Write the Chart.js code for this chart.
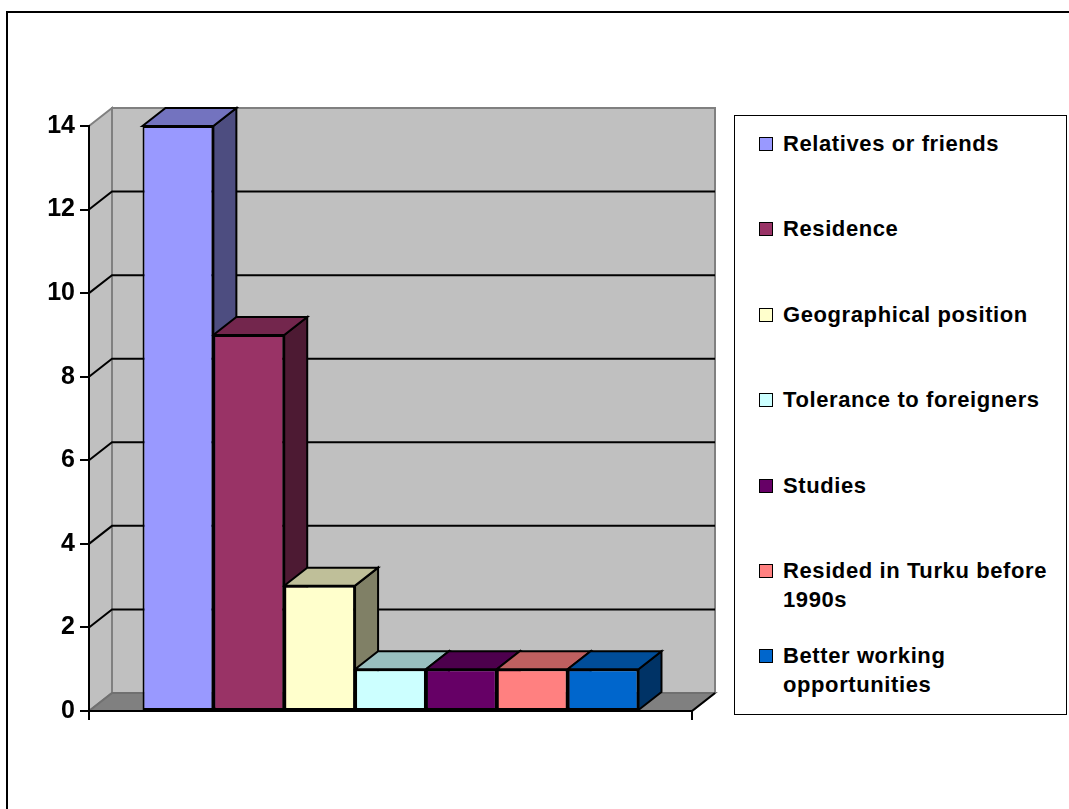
<!DOCTYPE html>
<html>
<head>
<meta charset="utf-8">
<script src="https://cdn.jsdelivr.net/npm/chart.js@4/dist/chart.umd.min.js"></script>
<style>
  html, body { margin: 0; padding: 0; background: #fff; overflow: hidden; }
  #wrap { position: relative; width: 1069px; height: 809px; overflow: hidden; }
  #frame { position: absolute; left: 6px; top: 11px; width: 2000px; height: 2000px; border: 2px solid #000; }
  #chart { position: absolute; left: 0; top: 0; }
  #legend { position: absolute; left: 734px; top: 115px; width: 331px; height: 598px; border: 1.5px solid #000; background: #fff; }
  .item { position: absolute; left: 24px; font: bold 22px "Liberation Sans", Arial, sans-serif; letter-spacing: 0.6px; line-height: 29px; color: #000; }
  .swatch { position: absolute; left: 0; top: 8px; width: 12px; height: 12px; border: 1px solid #000; }
  .text { position: absolute; left: 24px; top: 0; width: 282px; }
</style>
</head>
<body>
<div id="wrap">
  <div id="frame"></div>
  <canvas id="chart" width="1069" height="809"></canvas>
  <div id="legend"></div>
</div>
<script>
// 資料
const categories = [''];
const seriesNames = [
    'Relatives or friends',
    'Residence',
    'Geographical position',
    'Tolerance to foreigners',
    'Studies',
    'Resided in Turku before 1990s',
    'Better working opportunities'
];
const seriesValues = [14, 9, 3, 1, 1, 1, 1];
const yTickStep = 2;
const yMax = 14;

// 每個系列的顏色
const colors = ['#9999FF', '#993366', '#FFFFCC', '#CCFFFF', '#660066', '#FF8080', '#0066CC'];

// 立體效果的深度偏移
const DX = 23;
const DY = -18;

function shade(hex, f) {
    const n = parseInt(hex.slice(1), 16);
    const r = Math.round(((n >> 16) & 255) * f);
    const g = Math.round(((n >> 8) & 255) * f);
    const b = Math.round((n & 255) * f);
    return `rgb(${r}, ${g}, ${b})`;
}

function poly(ctx, pts, fill, stroke) {
    ctx.beginPath();
    ctx.moveTo(pts[0][0], pts[0][1]);
    for (let i = 1; i < pts.length; i++) ctx.lineTo(pts[i][0], pts[i][1]);
    ctx.closePath();
    if (fill) { ctx.fillStyle = fill; ctx.fill(); }
    if (stroke) { ctx.strokeStyle = stroke; ctx.stroke(); }
}

// 牆面、地板與背景格線
const wallsPlugin = {
    id: 'walls3d',
    beforeDraw(chart) {
        const { ctx, chartArea: a, scales: { y } } = chart;
        const L = a.left, R = a.right, T = a.top, B = a.bottom;
        ctx.save();
        ctx.lineWidth = 2;
        poly(ctx, [[L + DX, T + DY], [R + DX, T + DY], [R + DX, B + DY], [L + DX, B + DY]], '#C0C0C0', '#808080');
        poly(ctx, [[L, T], [L + DX, T + DY], [L + DX, B + DY], [L, B]], '#C0C0C0', '#808080');
        poly(ctx, [[L, B], [L + DX, B + DY], [R + DX, B + DY], [R, B]], '#808080', '#707070');

        ctx.strokeStyle = '#000';
        y.ticks.forEach(t => {
            if (t.value <= y.min || t.value >= y.max) return;
            const py = y.getPixelForValue(t.value);
            ctx.beginPath();
            ctx.moveTo(L, py);
            ctx.lineTo(L + DX, py + DY);
            ctx.lineTo(R + DX, py + DY);
            ctx.stroke();
        });
        // 地板右側邊
        ctx.beginPath();
        ctx.moveTo(R, B);
        ctx.lineTo(R + DX, B + DY);
        ctx.stroke();
        ctx.restore();
    }
};

// 長條的頂面與側面
const barFacesPlugin = {
    id: 'barFaces',
    beforeDatasetsDraw(chart) {
        const ctx = chart.ctx;
        ctx.save();
        ctx.lineWidth = 2;
        chart.data.datasets.forEach((ds, i) => {
            const meta = chart.getDatasetMeta(i);
            meta.data.forEach(bar => {
                const { x, y, base, width } = bar.getProps(['x', 'y', 'base', 'width'], true);
                const l = x - width / 2, r = x + width / 2;
                poly(ctx, [[r, y], [r + DX, y + DY], [r + DX, base + DY], [r, base]], shade(colors[i], 0.5), '#000');
                poly(ctx, [[l, y], [r, y], [r + DX, y + DY], [l + DX, y + DY]], shade(colors[i], 0.75), '#000');
            });
        });
        ctx.restore();
    }
};

const datasets = seriesNames.map((name, i) => ({
    label: name,
    data: [seriesValues[i]],
    backgroundColor: colors[i],
    borderColor: '#000',
    borderWidth: 2,
    borderSkipped: false,
    categoryPercentage: 0.8225,
    barPercentage: 1
}));

const ctx = document.getElementById('chart').getContext('2d');
new Chart(ctx, {
    type: 'bar',
    data: { labels: categories, datasets: datasets },
    options: {
        responsive: false,
        animation: false,
        layout: { padding: { left: 29, top: 126, right: 377, bottom: 88 } },
        plugins: {
            legend: { display: false },
            tooltip: { enabled: false }
        },
        scales: {
            x: {
                afterFit(axis) { axis.height = 10; },
                ticks: { display: false },
                grid: { drawOnChartArea: false, drawTicks: true, tickLength: 9, color: '#000', lineWidth: 2, offset: true },
                border: { display: true, color: '#000', width: 2 }
            },
            y: {
                min: 0,
                max: yMax,
                afterFit(axis) { axis.width = 60; },
                ticks: {
                    stepSize: yTickStep,
                    padding: 5,
                    color: '#000',
                    font: { family: '"Liberation Sans", Arial, sans-serif', weight: 'bold', size: 25 }
                },
                grid: { drawOnChartArea: false, drawTicks: true, tickLength: 9, color: '#000', lineWidth: 2 },
                border: { display: true, color: '#000', width: 2 }
            }
        }
    },
    plugins: [wallsPlugin, barFacesPlugin]
});

// 圖例
const legend = document.getElementById('legend');
seriesNames.forEach((name, i) => {
    const item = document.createElement('div');
    item.className = 'item';
    item.style.top = (13 + i * 85.4) + 'px';
    item.innerHTML = `<div class="swatch" style="background:${colors[i]}"></div><div class="text">${name}</div>`;
    legend.appendChild(item);
});
</script>
</body>
</html>
